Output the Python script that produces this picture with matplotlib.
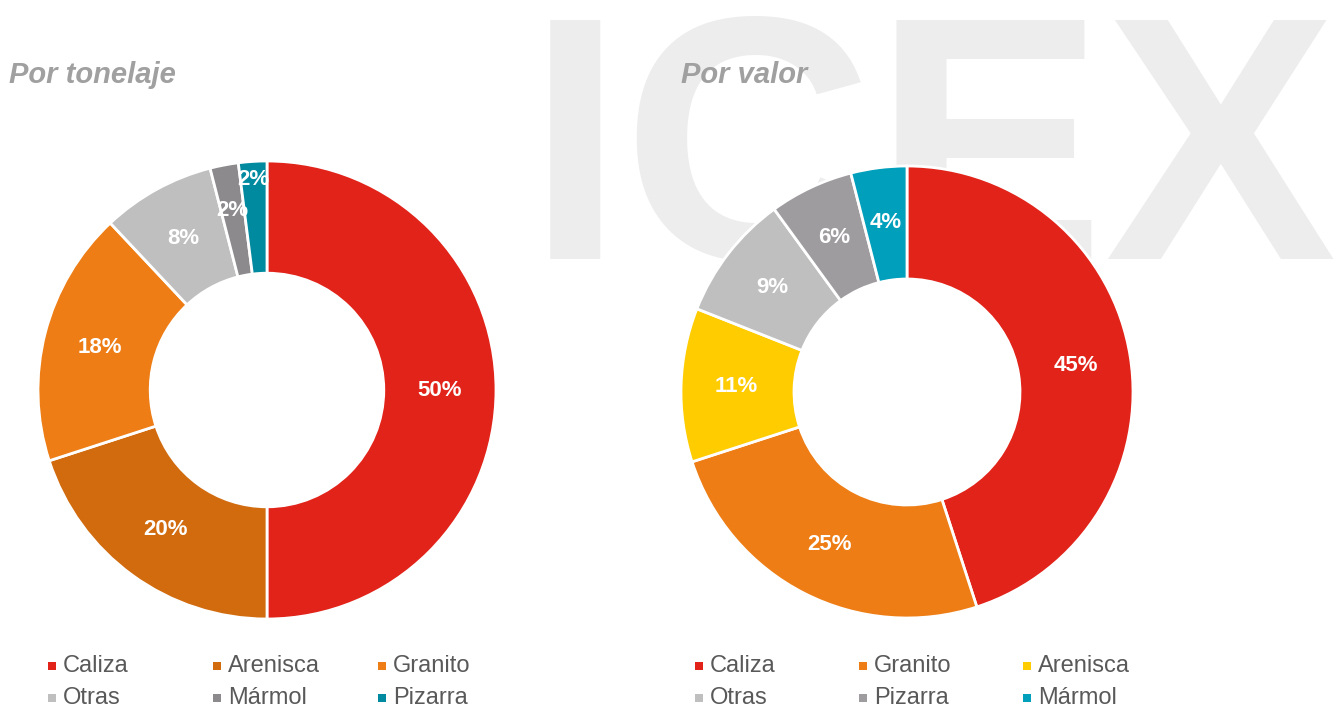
import numpy as np
import matplotlib
matplotlib.use("Agg")
import matplotlib.pyplot as plt
from matplotlib.patches import Rectangle

plt.rcParams['font.family'] = ['Liberation Sans', 'DejaVu Sans']

# Por tonelaje
ton_labels = ['Caliza', 'Arenisca', 'Granito', 'Otras', 'Mármol', 'Pizarra']
ton_values = [50, 20, 18, 8, 2, 2]
ton_colors = ['#e2231a', '#d16b0e', '#ed7d14', '#c0bfc0', '#8c8a8d', '#008aa0']

# Por valor
val_labels = ['Caliza', 'Granito', 'Arenisca', 'Otras', 'Pizarra', 'Mármol']
val_values = [45, 25, 11, 9, 6, 4]
val_colors = ['#e2231a', '#ed7d14', '#ffcc00', '#c0bfc0', '#9e9c9f', '#009fbb']

W, H = 1343, 711


def px_box(cx, cy, r):
    # axes box in figure fraction from a centre / radius in pixels
    return [(cx - r) / W, (H - cy - r) / H, 2 * r / W, 2 * r / H]


def donut(ax, values, colors, width, label_r, push=None):
    wedges, _ = ax.pie(values, colors=colors, startangle=90, counterclock=False,
                       radius=1.0, wedgeprops=dict(width=width, edgecolor='white',
                                                   linewidth=2))
    for w in wedges:
        w.set_clip_on(False)
    push = push or {}
    for i, w in enumerate(wedges):
        ang = np.deg2rad((w.theta1 + w.theta2) / 2)
        r = push.get(i, label_r)
        ax.text(r * np.cos(ang), r * np.sin(ang), f'{values[i]}%',
                ha='center', va='center', color='white', fontsize=16,
                fontweight='bold', zorder=5)
    ax.set_xlim(-1.0, 1.0)
    ax.set_ylim(-1.0, 1.0)
    ax.set_aspect('equal')
    ax.axis('off')


def legend(labels, colors, x0, dx, y0, dy):
    for i, (lab, col) in enumerate(zip(labels, colors)):
        x = x0 + (i % 3) * dx
        y = y0 + (i // 3) * dy
        fig.patches.append(Rectangle(((x - 4) / W, (H - y - 4) / H), 8 / W, 8 / H,
                                     transform=fig.transFigure, facecolor=col,
                                     edgecolor='none'))
        fig.text((x + 11) / W, (H - y) / H, lab, ha='left', va='center',
                 fontsize=17, color='#595959')


fig = plt.figure(figsize=(W / 100, H / 100), dpi=100)

# watermark, kept behind everything
fig.text(527 / W, (H - 259) / H, 'ICEX', fontsize=250, fontweight='bold',
         color='#ededed', ha='left', va='baseline', zorder=-10)

ax1 = fig.add_axes(px_box(267, 390, 229))
donut(ax1, ton_values, ton_colors, 0.49, 0.755, push={4: 0.8, 5: 0.92})

ax2 = fig.add_axes(px_box(907, 392, 226))
donut(ax2, val_values, val_colors, 0.5, 0.755)

fig.text(9 / W, (H - 75) / H, 'Por tonelaje', fontsize=21, fontweight='bold',
         fontstyle='italic', color='#a0a0a0', ha='left', va='center')
fig.text(681 / W, (H - 75) / H, 'Por valor', fontsize=21, fontweight='bold',
         fontstyle='italic', color='#a0a0a0', ha='left', va='center')

legend(ton_labels, ton_colors, 52, 165, 666, 32)
legend(val_labels, val_colors, 699, 164, 666, 32)

fig.savefig('out.png', dpi=100)
